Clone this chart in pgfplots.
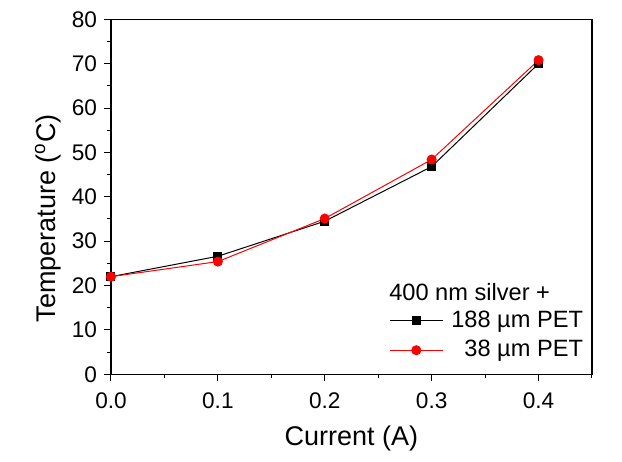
\documentclass[border=0pt]{standalone}
\usepackage{fontspec}
\setmainfont{Liberation Sans}
\usepackage{pgfplots}
\pgfplotsset{compat=1.18}

\begin{document}
\begin{tikzpicture}
\begin{axis}[
    scale only axis,
    width=240.5pt, height=177.5pt,
    xmin=0, xmax=0.45, ymin=0, ymax=80,
    xtick={0,0.1,0.2,0.3,0.4},
    ytick={0,10,...,80},
    minor xtick={0.05,0.15,0.25,0.35,0.45},
    minor ytick={5,15,...,75},
    xticklabel style={yshift=-2pt, /pgf/number format/.cd, fixed, fixed zerofill, precision=1},
    /pgf/number format/assume math mode=true,
    tick pos=left,
    tick align=outside,
    major tick length=3.5pt,
    minor tick length=2pt,
    every tick/.style={black, line width=0.5pt},
    axis line style={line width=0.6pt},
    tick label style={font=\fontsize{11.3}{13}\selectfont},
    label style={font=\fontsize{13.5}{16}\selectfont},
    xlabel={Current (A)},
    ylabel={Temperature (\textsuperscript{o}C)},
    xlabel style={at={(axis description cs:0.5,-0.18)}, anchor=center},
    ylabel style={at={(axis description cs:-0.131,0.44)}, anchor=center},
    legend image code/.code={\draw[mark repeat=2,mark phase=2] plot coordinates {(0pt,0pt) (13.25pt,0pt) (26.5pt,0pt)};},
    legend cell align=right,
    legend style={draw=none, fill=none, at={(axis cs:0.26,8.74)}, anchor=west,
        font=\fontsize{11.8}{14}\selectfont, inner sep=0pt, row sep=1pt,
        /tikz/every odd column/.append style={column sep=2pt}},
    clip=false,
]
\addplot[black, line width=0.5pt, mark=square*, mark size=2pt, mark options={solid}] coordinates {
    (0,22) (0.1,26.6) (0.2,34.5) (0.3,46.8) (0.4,70.0)
};
\addlegendentry{188 µm PET}
\addplot[red, line width=0.5pt, mark=*, mark size=2.25pt, mark options={solid}] coordinates {
    (0,22) (0.1,25.4) (0.2,35.1) (0.3,48.4) (0.4,70.8)
};
\addlegendentry{38 µm PET}
\node[anchor=base west, font=\fontsize{11.8}{14}\selectfont, inner sep=0pt] at (axis cs:0.26,16.7) {400 nm silver +};
\end{axis}
\path (current axis.south west) ++(-55.5pt,-43.85pt);
\path (current axis.north east) ++(15pt,9.65pt);
\end{tikzpicture}
\end{document}
